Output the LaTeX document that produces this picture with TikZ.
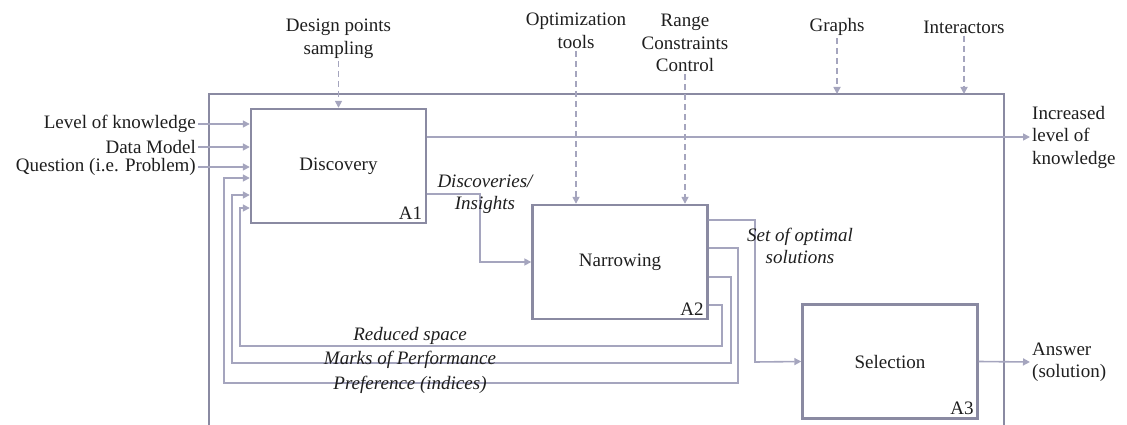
\documentclass[tikz,border=0pt]{standalone}
\usepackage{fontspec}
\setmainfont{Liberation Serif}
\usetikzlibrary{arrows.meta}
\definecolor{boxcol}{RGB}{138,138,162}
\definecolor{linecol}{RGB}{165,165,190}
\definecolor{txtcol}{RGB}{30,30,30}
\begin{document}
\begin{tikzpicture}[x=1pt,y=-1pt,
    >={Triangle[length=7pt,width=7pt]},
    activity/.style ={rectangle, draw=boxcol, line width=2.4pt, inner sep=0pt, minimum width=175pt, minimum height=114pt, text=txtcol, font=\fontsize{19}{22.5}\selectfont},
    tag/.style ={text=txtcol, font=\fontsize{19}{22.5}\selectfont, inner sep=2pt, align=center},
    itag/.style ={tag, font=\fontsize{19}{22.5}\selectfont\itshape},
    flow/.style ={draw=linecol, line width=1.6pt},
    ctrl/.style ={flow, dash pattern=on 6pt off 4pt}]
   \useasboundingbox (0,0) rectangle (1127,425);
   % frame
   \draw[draw=boxcol, line width=2.4pt] (209,426) -- (209,94) -- (1004,94) -- (1004,426);
   \coordinate (F) at (209,94);
   % activities
   \node[activity] (D) at (338.5,166) {Discovery};
   \node[activity] (N) at (620,262) {Narrowing};
   \node[activity] (S) at (890,361.5) {Selection};
   \node[tag, anchor=south east, inner sep=5pt] at (D.south east) {A1};
   \node[tag, anchor=south east, inner sep=5pt] at (N.south east) {A2};
   \node[tag, anchor=south east, inner sep=5pt] at (S.south east) {A3};
   % inputs
   \node[tag, anchor=east] (LK) at (198,124) {Level of knowledge};
   \node[tag, anchor=east] (DM) at (198,147) {Data Model};
   \node[tag, anchor=east] (Q)  at (198,167) {Question (i.e. Problem)};
   \draw[flow, ->] (LK.east) -- (LK.east -| D.west);
   \draw[flow, ->] (DM.east) -- (DM.east -| D.west);
   \draw[flow, ->] (Q.east) -- (Q.east -| D.west);
   % controls
   \node[tag] (DP) at (338.5,39) {Design points\\sampling};
   \node[tag] (OT) at (576,31) {Optimization\\tools};
   \node[tag] (RC) at (685,43) {Range\\Constraints\\Control};
   \node[tag] (G)  at (837,27) {Graphs};
   \node[tag] (I)  at (964,27) {Interactors};
   \draw[ctrl, ->] (DP.south) -- (D.north);
   \draw[ctrl, ->] (OT.south) -- (OT.south |- N.north);
   \draw[ctrl, ->] (RC.south) -- (RC.south |- N.north);
   \draw[ctrl, ->] (G.south) -- (G.south |- F);
   \draw[ctrl, ->] (I.south) -- (I.south |- F);
   % outputs
   \node[tag, anchor=west, align=left] (IK) at (1030,137) {Increased\\level of\\knowledge};
   \node[tag, anchor=west, align=left] (AN) at (1030,362) {Answer\\(solution)};
   \draw[flow, ->] ([yshift=29pt]D.east) -- (IK.west);
   \draw[flow, ->] (S.east) -- (AN.west);
   \draw[flow, ->] ([yshift=-28pt]D.east) -| (480,262) -- (N.west);
   \draw[flow, ->] ([yshift=42pt]N.east) -| (755,362) -- (S.west);
   \node[itag] at (485,194) {Discoveries/\\Insights};
   \node[itag] at (800,246) {Set of optimal\\solutions};
   % feedback
   \draw[flow, ->] ([yshift=-43pt]N.east) -| (722,346) -| (240,208) -- ([yshift=-42pt]D.west);
   \draw[flow, ->] ([yshift=-15pt]N.east) -| (731,363) -| (232,195) -- ([yshift=-29pt]D.west);
   \draw[flow, ->] ([yshift=14pt]N.east) -| (738,383) -| (224,178) -- ([yshift=-12pt]D.west);
   \node[itag] at (410,336) {Reduced space};
   \node[itag] at (410,360) {Marks of Performance};
   \node[itag] at (410,385) {Preference (indices)};
 \end{tikzpicture}
\end{document}
